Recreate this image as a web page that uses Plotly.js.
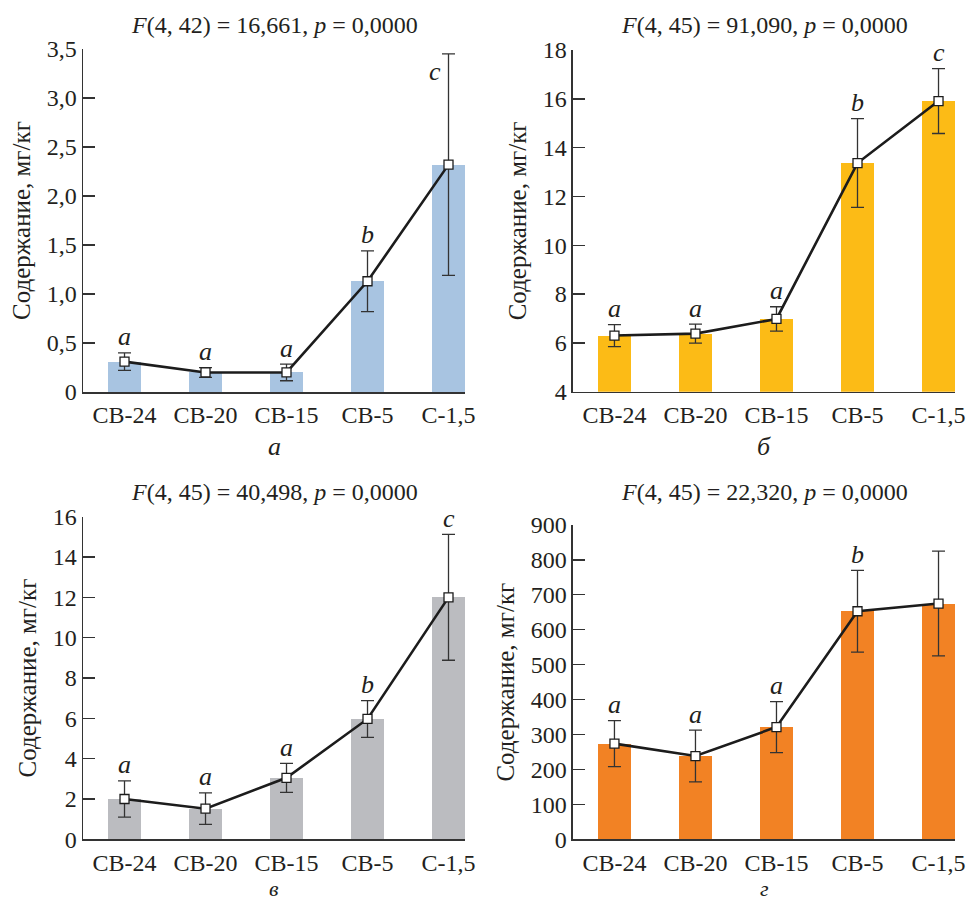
<!DOCTYPE html>
<html>
<head>
<meta charset="utf-8">
<script src="https://cdn.plot.ly/plotly-3.0.1.min.js"></script>
<style>html,body{margin:0;padding:0;background:#fff;}#chart{width:969px;height:900px;}</style>
</head>
<body>
<div id="chart"></div>
<script>
// ---- data ----
const categories = ['СВ-24', 'СВ-20', 'СВ-15', 'СВ-5', 'С-1,5'];

const meanA = [0.31, 0.20, 0.20, 1.13, 2.32];
const errA  = [0.09, 0.05, 0.085, 0.31, 1.13];
const lettersA = ['a', 'a', 'a', 'b', 'c'];
const tickValsA = [0, 0.5, 1.0, 1.5, 2.0, 2.5, 3.0, 3.5];
const tickTextA = ['0', '0,5', '1,0', '1,5', '2,0', '2,5', '3,0', '3,5'];
const titleA = '<i>F</i>(4, 42) = 16,661, <i>p</i> = 0,0000';

const meanB = [6.30, 6.38, 6.98, 13.37, 15.91];
const errB  = [0.45, 0.39, 0.50, 1.82, 1.33];
const lettersB = ['a', 'a', 'a', 'b', 'c'];
const tickValsB = [4, 6, 8, 10, 12, 14, 16, 18];
const tickTextB = ['4', '6', '8', '10', '12', '14', '16', '18'];
const titleB = '<i>F</i>(4, 45) = 91,090, <i>p</i> = 0,0000';

const meanV = [2.00, 1.52, 3.05, 5.97, 12.00];
const errV  = [0.90, 0.78, 0.72, 0.91, 3.12];
const lettersV = ['a', 'a', 'a', 'b', 'c'];
const tickValsV = [0, 2, 4, 6, 8, 10, 12, 14, 16];
const tickTextV = ['0', '2', '4', '6', '8', '10', '12', '14', '16'];
const titleV = '<i>F</i>(4, 45) = 40,498, <i>p</i> = 0,0000';

const meanG = [274, 238.5, 321.5, 653, 675];
const errG  = [66, 74, 73, 117, 150];
const lettersG = ['a', 'a', 'a', 'b', 'c'];
const tickValsG = [0, 100, 200, 300, 400, 500, 600, 700, 800, 900];
const tickTextG = ['0', '100', '200', '300', '400', '500', '600', '700', '800', '900'];
const titleG = '<i>F</i>(4, 45) = 22,320, <i>p</i> = 0,0000';

const panelLabels = ['а', 'б', 'в', 'г'];
const yTitle = 'Содержание, мг/кг';

// ---- styling / layout ----
const FONT = "'Liberation Serif', 'Times New Roman', serif";
const TXT = '#231f20';
const panels = [
  {mean: meanA, err: errA, letters: lettersA, tv: tickValsA, tt: tickTextA, title: titleA, color: '#A8C4E1', range: [0, 3.5],
   xd: [0.0857, 0.4799], yd: [0.5644, 0.9456]},
  {mean: meanB, err: errB, letters: lettersB, tv: tickValsB, tt: tickTextB, title: titleB, color: '#FCBB16', range: [4, 18],
   xd: [0.5913, 0.9856], yd: [0.5648, 0.9444]},
  {mean: meanV, err: errV, letters: lettersV, tv: tickValsV, tt: tickTextV, title: titleV, color: '#BBBCC0', range: [0, 16],
   xd: [0.0857, 0.4799], yd: [0.0674, 0.4259]},
  {mean: meanG, err: errG, letters: lettersG, tv: tickValsG, tt: tickTextG, title: titleG, color: '#F28224', range: [0, 900],
   xd: [0.5913, 0.9856], yd: [0.0674, 0.4167]}
];

const traces = [];
const annotations = [];
const layout = {
  width: 969, height: 900,
  margin: {l: 0, r: 0, t: 0, b: 0},
  paper_bgcolor: '#fff', plot_bgcolor: 'rgba(0,0,0,0)',
  showlegend: false,
  font: {family: FONT, color: TXT, size: 23},
  bargap: 0
};

panels.forEach((p, i) => {
  const n = i + 1;
  const xa = 'x' + (n === 1 ? '' : n);
  const ya = 'y' + (n === 1 ? '' : n);
  traces.push({
    type: 'bar', x: categories, y: p.mean, xaxis: xa, yaxis: ya,
    width: 0.41, marker: {color: p.color, line: {width: 0}}, hoverinfo: 'skip'
  });
  traces.push({
    type: 'scatter', mode: 'lines+markers', x: categories, y: p.mean, xaxis: xa, yaxis: ya,
    line: {color: '#1c1c1c', width: 2.6},
    marker: {symbol: 'square', size: 9, color: '#fff', line: {color: '#1c1c1c', width: 1.3}},
    error_y: {type: 'data', array: p.err, visible: true, color: '#333', thickness: 1.3, width: 6.5},
    cliponaxis: false
  });
  const axX = {
    domain: p.xd, anchor: ya, type: 'category', range: [-0.512, 4.204],
    showline: true, linecolor: '#333', linewidth: 1.5, ticks: '', showgrid: false, zeroline: false,
    tickfont: {family: FONT, size: 24, color: TXT}, ticklabelstandoff: 1, fixedrange: true
  };
  const axY = {
    domain: p.yd, anchor: xa, range: p.range, tickmode: 'array', tickvals: p.tv, ticktext: p.tt,
    showline: true, linecolor: '#333', linewidth: 1.5, ticks: 'inside', ticklen: 12, tickwidth: 1.3, tickcolor: '#333',
    showgrid: false, zeroline: false, tickfont: {family: FONT, size: 24, color: TXT},
    title: {text: yTitle, font: {family: FONT, size: 25, color: TXT}, standoff: 9}, fixedrange: true
  };
  layout['xaxis' + (n === 1 ? '' : n)] = axX;
  layout['yaxis' + (n === 1 ? '' : n)] = axY;

  // panel title
  annotations.push({
    xref: 'paper', yref: 'paper', x: (p.xd[0] + p.xd[1]) / 2,
    y: i < 2 ? 1 - 25 / 900 : 1 - 492 / 900,
    text: p.title, showarrow: false, xanchor: 'center', yanchor: 'middle',
    font: {family: FONT, size: 24, color: TXT}
  });
  // panel label
  annotations.push({
    xref: 'paper', yref: 'paper', x: (p.xd[0] + p.xd[1]) / 2,
    y: i < 2 ? 1 - 446 / 900 : 0,
    text: '<i>' + panelLabels[i] + '</i>', showarrow: false, xanchor: 'center',
    yanchor: i < 2 ? 'middle' : 'bottom', yshift: i < 2 ? 0 : -3,
    font: {family: FONT, size: i < 2 ? 26 : 22, color: TXT}
  });
  // group letters
  p.letters.forEach((L, k) => {
    const ann = {
      xref: xa, yref: ya, x: categories[k], y: p.mean[k] + p.err[k],
      text: '<i>' + L + '</i>', showarrow: false, xanchor: 'center', yanchor: 'middle', yshift: 16,
      font: {family: FONT, size: 26, color: TXT}
    };
    if (i === 0 && k === 4) { ann.y = 3.27; ann.yshift = 0; ann.xshift = -14; }
    if (i === 3 && k === 4) { ann.y = 962; ann.yshift = 0; }
    annotations.push(ann);
  });
});
layout.annotations = annotations;

Plotly.newPlot('chart', traces, layout, {staticPlot: true, displayModeBar: false});
</script>
</body>
</html>
